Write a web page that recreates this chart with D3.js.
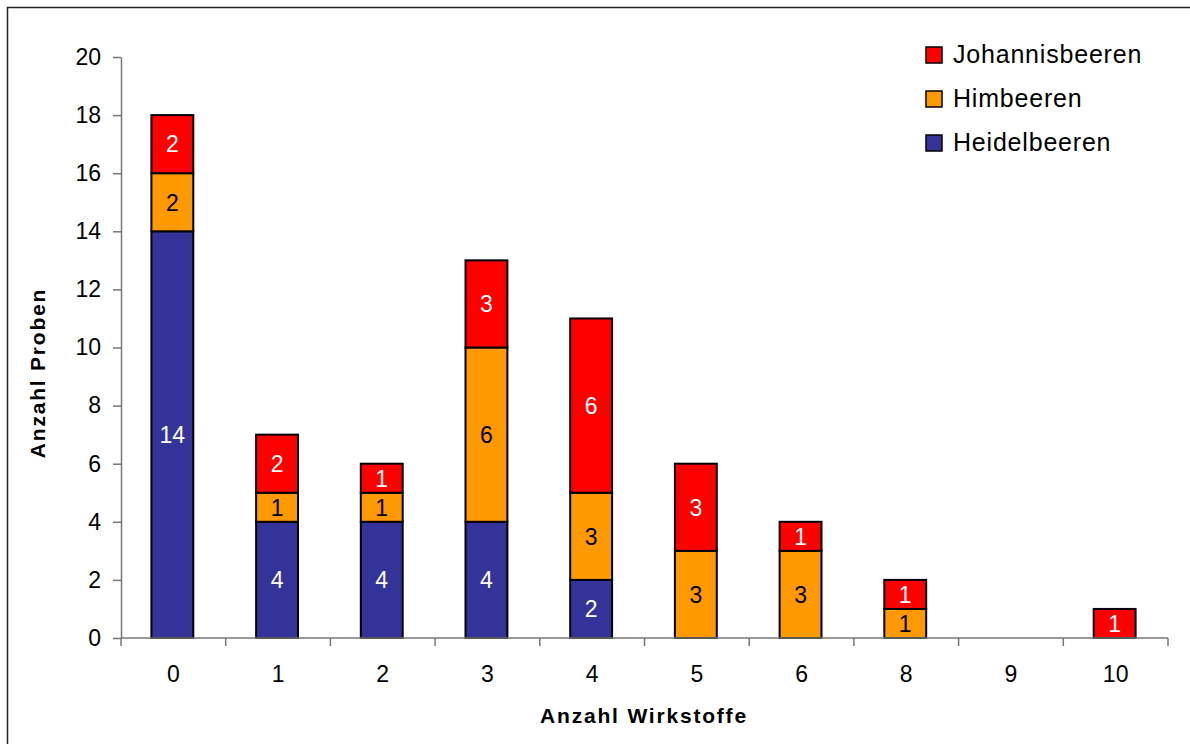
<!DOCTYPE html>
<html><head><meta charset="utf-8">
<script src="https://cdn.jsdelivr.net/npm/d3@7"></script>
<style>body{margin:0;background:#fff}svg{display:block;font-family:"Liberation Sans",Arial,sans-serif}</style>
</head><body>
<svg id="c" width="1190" height="744"></svg>
<script>
const categories = ["0","1","2","3","4","5","6","8","9","10"];
const heidelbeeren = [14,4,4,4,2,0,0,0,0,0];
const himbeeren = [2,1,1,6,3,3,3,1,0,0];
const johannisbeeren = [2,2,1,3,6,3,1,1,0,1];
const seriesNames = ["Heidelbeeren","Himbeeren","Johannisbeeren"];
const seriesColors = ["#333399","#FF9900","#FF0000"];
const labelColors = ["#fff","#000","#fff"];
const yTicks = [0,2,4,6,8,10,12,14,16,18,20];

const svg = d3.select("#c");
svg.append("rect").attr("x",7.5).attr("y",7.5).attr("width",1200).attr("height",800)
  .attr("fill","none").attr("stroke","#222").attr("stroke-width",1.5);

const L=121,R=1168,T=57,B=638;
const x = d3.scaleBand().domain(categories).range([L,R]).padding(0);
const y = d3.scaleLinear().domain([0,20]).range([B,T]);
const barW = x.bandwidth()*0.4;

const table = categories.map((c,i)=>({cat:c, Heidelbeeren:heidelbeeren[i], Himbeeren:himbeeren[i], Johannisbeeren:johannisbeeren[i]}));
const stack = d3.stack().keys(seriesNames)(table);

// y axis
const ya = svg.append("g").attr("transform",`translate(${L},0)`)
  .call(d3.axisLeft(y).tickValues(yTicks).tickSize(8).tickPadding(12).tickSizeOuter(0));
ya.select(".domain").attr("stroke","#777").attr("stroke-width",1.5);
ya.selectAll(".tick line").attr("stroke","#777").attr("stroke-width",1.5);
ya.selectAll(".tick text").attr("font-size",23).attr("fill","#000").attr("font-family","Liberation Sans, Arial");

// bars
stack.forEach((s,si)=>{
  const g = svg.append("g");
  s.forEach((d,i)=>{
    const v = d[1]-d[0];
    if(v<=0) return;
    const cx = x(categories[i])+x.bandwidth()/2 - 1;
    g.append("rect").attr("x",cx-barW/2).attr("y",y(d[1])).attr("width",barW).attr("height",y(d[0])-y(d[1]))
      .attr("fill",seriesColors[si]).attr("stroke","#000").attr("stroke-width",2);
    g.append("text").attr("x",cx).attr("y",(y(d[0])+y(d[1]))/2).attr("dy","0.36em")
      .attr("text-anchor","middle").attr("font-size",23).attr("fill",labelColors[si]).text(v);
  });
});

// x axis
const xa = svg.append("g");
xa.append("line").attr("x1",L).attr("x2",R).attr("y1",B).attr("y2",B).attr("stroke","#777").attr("stroke-width",1.5);
const bounds = categories.map(c=>x(c)).concat([R]);
xa.selectAll("line.t").data(bounds).join("line").attr("class","t")
  .attr("x1",d=>d).attr("x2",d=>d).attr("y1",B).attr("y2",B+8).attr("stroke","#777").attr("stroke-width",1.5);
xa.selectAll("text").data(categories).join("text")
  .attr("x",d=>x(d)+x.bandwidth()/2).attr("y",682).attr("text-anchor","middle").attr("font-size",23).text(d=>d);

// titles
svg.append("text").attr("x",644).attr("y",723).attr("text-anchor","middle").attr("font-size",21)
  .attr("font-weight","bold").attr("letter-spacing","1.8px").text("Anzahl Wirkstoffe");
svg.append("text").attr("transform","translate(45,373) rotate(-90)").attr("text-anchor","middle").attr("font-size",21)
  .attr("font-weight","bold").attr("letter-spacing","1.8px").text("Anzahl Proben");

// legend
const leg = [2,1,0];
leg.forEach((si,k)=>{
  const by = 63 + k*44;
  svg.append("rect").attr("x",926).attr("y",by-16).attr("width",16).attr("height",16)
    .attr("fill",seriesColors[si]).attr("stroke","#000").attr("stroke-width",1.5);
  svg.append("text").attr("x",953).attr("y",by).attr("font-size",25).attr("letter-spacing","0.8px").text(seriesNames[si]);
});
</script>
</body></html>
